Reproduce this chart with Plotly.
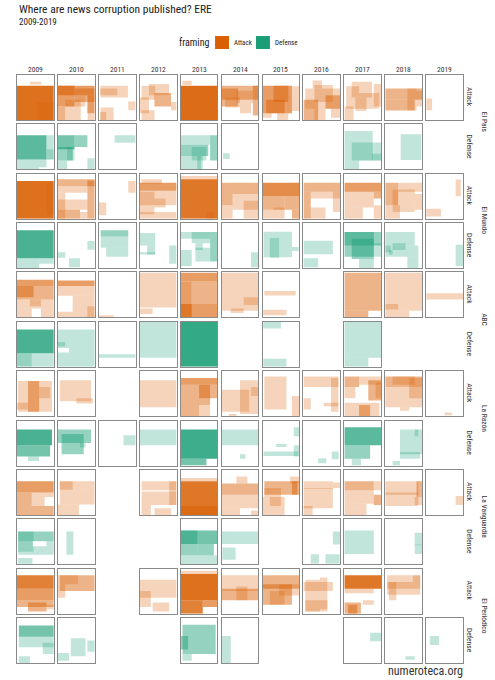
import plotly.graph_objects as go
from plotly.subplots import make_subplots

# facets
years = list(range(2009, 2020))
papers = ["El País", "El Mundo", "ABC", "La Razón", "La Vanguardia", "El Periódico"]
framings = ["Attack", "Defense"]

# article boxes on the page: (x0, y0, x1, y1, n_articles), page units, y from top
el_pais_attack = {
    2009: [(0.35, 0.15, 0.66, 0.21, 1), (0, 0.24, 1, 1, 7), (0.55, 0.6, 1, 1, 1)],
    2010: [(0, 0.24, 1, 0.45, 3), (0, 0.24, 0.45, 0.7, 3), (0.45, 0.3, 1, 0.6, 2), (0.8, 0.45, 1, 0.85, 3),
           (0.2, 0.55, 0.62, 1, 1), (0, 0.7, 0.2, 1, 2), (0.45, 0.45, 0.75, 0.7, 1), (0.81, 0.85, 1, 1, 1)],
    2011: [(0.04, 0.24, 0.79, 0.5, 1), (0.04, 0.3, 0.5, 0.45, 1), (0.8, 0.59, 1, 0.78, 1),
           (0.04, 0.72, 0.4, 1, 1), (0.04, 0.82, 0.2, 1, 1)],
    2012: [(0.05, 0.24, 0.42, 0.55, 1), (0.25, 0.2, 0.8, 0.45, 1), (0, 0.5, 0.25, 0.85, 1),
           (0.4, 0.4, 0.85, 0.7, 2), (0.85, 0.6, 1, 0.78, 1), (0.05, 0.78, 0.4, 1, 1)],
    2013: [(0.05, 0.13, 0.3, 0.22, 1), (0, 0.24, 1, 1, 8)],
    2014: [(0, 0.24, 1, 0.55, 2), (0, 0.3, 0.45, 0.7, 2), (0.4, 0.35, 0.85, 0.62, 1), (0.85, 0.24, 1, 0.9, 2),
           (0.1, 0.5, 0.5, 0.72, 1), (0.5, 0.62, 0.8, 0.85, 1)],
    2015: [(0, 0.24, 0.8, 0.85, 3), (0.3, 0.24, 0.7, 0.6, 2), (0.8, 0.25, 1, 0.8, 1), (0.1, 0.55, 0.6, 0.85, 2),
           (0.4, 0.85, 0.7, 1, 1), (0, 0.85, 0.25, 0.95, 1)],
    2016: [(0.25, 0.12, 0.5, 0.3, 1), (0.05, 0.3, 1, 0.75, 1), (0.3, 0.22, 0.8, 0.6, 1), (0, 0.55, 0.4, 1, 2),
           (0.6, 0.45, 1, 0.75, 2), (0.3, 0.75, 0.6, 1, 1), (0.75, 0.75, 1, 0.95, 1)],
    2017: [(0.05, 0.25, 0.4, 0.75, 1), (0.2, 0.15, 0.75, 0.5, 1), (0.4, 0.4, 0.95, 0.75, 1), (0.8, 0.2, 1, 0.7, 1),
           (0, 0.7, 0.25, 1, 1), (0.3, 0.5, 0.6, 0.8, 1)],
    2018: [(0, 0.3, 1, 0.55, 2), (0, 0.55, 0.8, 0.79, 2), (0.6, 0.3, 0.85, 0.79, 1), (0.85, 0.35, 1, 0.7, 1)],
    2019: [(0, 0.52, 0.16, 0.78, 1)],
}
el_pais_defense = {
    2009: [(0, 0.24, 0.8, 0.78, 4), (0.8, 0.24, 1, 0.55, 1), (0.8, 0.55, 1, 0.78, 2), (0, 0.78, 0.4, 1, 1),
           (0.4, 0.78, 0.6, 1, 1), (0.6, 0.78, 0.8, 0.95, 1)],
    2010: [(0, 0.24, 0.45, 0.55, 3), (0.45, 0.24, 0.8, 0.5, 2), (0, 0.5, 0.4, 0.8, 2), (0, 0.8, 0.25, 1, 1),
           (0.8, 0.75, 1, 1, 1), (0.25, 0.5, 0.45, 0.8, 1)],
    2011: [(0.43, 0.24, 1, 0.41, 1)],
    2012: [],
    2013: [(0, 0.24, 0.8, 0.45, 1), (0.8, 0.24, 1, 0.8, 2), (0, 0.45, 0.75, 0.7, 2), (0.3, 0.5, 0.7, 0.8, 1),
           (0, 0.7, 0.6, 1, 1), (0.45, 0.7, 0.55, 1, 1)],
    2014: [(0.04, 0.64, 0.22, 0.77, 1)],
    2015: [],
    2016: [],
    2017: [(0, 0.15, 0.77, 0.8, 1), (0.2, 0.4, 0.75, 0.8, 1), (0.75, 0.4, 1, 0.8, 1), (0, 0.8, 0.4, 1, 1),
           (0.75, 0.65, 1, 0.8, 1)],
    2018: [(0.42, 0.22, 0.98, 0.79, 1)],
    2019: [],
}
el_mundo_attack = {
    2009: [(0, 0.16, 1, 1, 7), (0.8, 0.2, 1, 0.9, 1)],
    2010: [(0, 0.12, 1, 0.28, 2), (0.8, 0.15, 1, 1, 2), (0, 0.28, 0.8, 0.42, 1), (0, 0.42, 0.2, 1, 1),
           (0, 0.57, 0.8, 0.8, 1), (0, 0.8, 0.6, 1, 2), (0.6, 0.85, 0.8, 1, 1)],
    2011: [(0.8, 0.16, 1, 0.42, 1), (0, 0.64, 0.2, 0.92, 1)],
    2012: [(0.05, 0.12, 0.6, 0.22, 1), (0, 0.2, 1, 0.38, 3), (0, 0.38, 1, 0.7, 1), (0, 0.4, 0.4, 0.9, 1),
           (0.4, 0.55, 0.7, 0.75, 1), (0, 0.85, 1, 1, 1)],
    2013: [(0, 0.05, 1, 0.12, 1), (0, 0.12, 1, 1, 6), (0.7, 0.85, 0.9, 1, 1)],
    2014: [(0, 0.2, 1, 0.45, 2), (0, 0.45, 0.3, 0.7, 2), (0.3, 0.45, 1, 0.8, 1), (0.6, 0.6, 1, 1, 1),
           (0, 0.7, 0.3, 1, 1)],
    2015: [(0, 0.2, 1, 0.5, 4), (0, 0.5, 0.6, 0.8, 2), (0.6, 0.5, 1, 0.8, 2), (0, 0.8, 0.3, 1, 1),
           (0.3, 0.75, 0.6, 1, 1), (0.8, 0.8, 1, 1, 2)],
    2016: [(0, 0.2, 1, 0.4, 2), (0, 0.4, 0.2, 1, 2), (0.2, 0.4, 1, 0.55, 1), (0.8, 0.4, 1, 0.85, 1),
           (0.2, 0.75, 0.6, 1, 1)],
    2017: [(0, 0.2, 1, 0.4, 3), (0, 0.4, 0.2, 1, 1), (0.2, 0.4, 0.8, 0.75, 1), (0.8, 0.4, 1, 0.55, 2),
           (0.2, 0.75, 0.5, 1, 1), (0.8, 0.7, 1, 1, 1)],
    2018: [(0, 0.2, 0.35, 0.7, 2), (0.35, 0.2, 1, 0.4, 1), (0.2, 0.35, 0.8, 0.85, 1), (0.8, 0.45, 1, 0.8, 1),
           (0, 0.7, 0.4, 1, 1)],
    2019: [(0.8, 0.13, 0.94, 0.5, 1), (0, 0.78, 0.4, 0.95, 1)],
}
el_mundo_defense = {
    2009: [(0, 0.16, 1, 0.78, 5), (0, 0.78, 0.6, 1, 1), (0.6, 0.78, 1, 0.9, 1)],
    2010: [(0.8, 0.4, 1, 0.59, 1), (0, 0.65, 0.2, 0.77, 1), (0.3, 0.78, 0.6, 0.98, 1)],
    2011: [(0.05, 0.16, 0.8, 0.3, 2), (0.05, 0.3, 0.8, 0.55, 1), (0.2, 0.55, 0.8, 0.75, 1)],
    2012: [(0, 0.22, 0.42, 0.5, 1), (0.2, 0.5, 0.42, 0.7, 1), (0, 0.65, 0.42, 0.7, 1), (0.8, 0.5, 1, 0.9, 1)],
    2013: [(0, 0.2, 0.8, 0.35, 1), (0.8, 0.2, 1, 0.85, 2), (0.3, 0.2, 0.8, 0.45, 1), (0.4, 0.45, 0.6, 0.6, 1),
           (0, 0.6, 0.3, 0.95, 1), (0.4, 0.55, 0.8, 0.85, 1)],
    2014: [(0.8, 0.65, 1, 0.98, 1)],
    2015: [(0.03, 0.19, 0.8, 0.76, 1), (0.2, 0.33, 0.45, 0.77, 1), (0.8, 0.53, 0.98, 0.62, 1)],
    2016: [(0, 0.39, 0.8, 0.69, 1), (0, 0.78, 0.4, 0.98, 1)],
    2017: [(0, 0.2, 1, 0.5, 2), (0, 0.2, 0.8, 0.75, 2), (0.2, 0.35, 0.8, 0.8, 2), (0.8, 0.45, 1, 0.75, 1),
           (0.4, 0.8, 0.8, 1, 1)],
    2018: [(0, 0.2, 0.8, 0.5, 1), (0, 0.5, 0.9, 0.75, 1), (0.2, 0.45, 0.55, 0.6, 1), (0, 0.5, 0.15, 0.65, 1),
           (0.6, 0.75, 0.9, 1, 1), (0.1, 0.6, 0.2, 0.7, 1)],
    2019: [(0.8, 0.48, 1, 0.95, 1)],
}
abc_attack = {
    2009: [(0, 0.16, 1, 0.3, 3), (0, 0.3, 1, 0.6, 2), (0, 0.3, 0.45, 0.55, 2), (0, 0.6, 1, 0.8, 1),
           (0.35, 0.6, 0.65, 0.75, 1), (0, 0.8, 0.4, 1, 1), (0.65, 0.8, 1, 1, 1)],
    2010: [(0, 0.18, 1, 0.3, 3), (0, 0.3, 1, 0.52, 1), (0.4, 0.52, 1, 1, 1), (0, 0.87, 0.4, 1, 1),
           (0.8, 0.75, 1, 1, 1)],
    2011: [(0, 0.95, 0.4, 1, 1)],
    2012: [(0, 0, 1, 0.78, 1), (0, 0.8, 0.35, 0.92, 1)],
    2013: [(0, 0, 1, 0.2, 3), (0, 0.2, 0.3, 1, 3), (0.3, 0.2, 1, 0.7, 2), (0, 0.7, 1, 1, 3)],
    2014: [(0, 0, 1, 0.85, 1), (0.6, 0.55, 1, 0.72, 1), (0.25, 0.8, 0.6, 0.9, 1)],
    2015: [(0.05, 0.41, 0.9, 0.51, 1), (0.02, 0.83, 0.65, 0.95, 1)],
    2016: [],
    2017: [(0, 0, 1, 0.85, 2), (0, 0.85, 0.65, 1, 2)],
    2018: [(0, 0, 1, 0.85, 1), (0, 0.85, 0.65, 1, 1), (0, 0.7, 0.35, 0.82, 1)],
    2019: [(0, 0.46, 1, 0.6, 1)],
}
abc_defense = {
    2009: [(0, 0.17, 1, 0.7, 5), (0, 0.7, 0.4, 1, 2), (0.4, 0.7, 1, 1, 1)],
    2010: [(0.3, 0.17, 1, 1, 1), (0, 0.17, 0.3, 0.58, 1), (0, 0.68, 0.3, 1, 1), (0, 0.45, 0.2, 0.55, 1)],
    2011: [(0, 0.72, 1, 0.8, 1)],
    2012: [(0, 0, 1, 0.8, 1)],
    2013: [(0, 0, 1, 1, 7)],
    2014: [],
    2015: [(0.02, 0, 0.5, 0.15, 1), (0.02, 0.82, 0.65, 1, 1)],
    2016: [],
    2017: [(0, 0, 1, 0.8, 1), (0, 0.8, 0.65, 1, 1)],
    2018: [],
    2019: [],
}
la_razon_attack = {
    2009: [(0.03, 0.22, 0.95, 0.9, 1), (0.3, 0.22, 0.6, 0.9, 2), (0.6, 0.35, 0.9, 0.6, 1), (0, 0.7, 0.3, 0.85, 1)],
    2010: [(0.05, 0.2, 0.9, 0.67, 1), (0.5, 0.6, 0.95, 0.72, 1)],
    2011: [],
    2012: [(0, 0.2, 1, 0.8, 1)],
    2013: [(0, 0.15, 1, 0.3, 3), (0, 0.3, 0.8, 0.75, 2), (0.5, 0.3, 1, 0.6, 2), (0, 0.75, 0.5, 1, 2),
           (0.5, 0.75, 0.8, 1, 1)],
    2014: [(0, 0.41, 0.75, 0.9, 1), (0.5, 0.2, 1, 0.95, 1), (0.8, 0.35, 1, 0.55, 1), (0.2, 0.95, 0.4, 1, 1)],
    2015: [(0.05, 0.12, 0.65, 0.85, 1), (0.8, 0.55, 1, 1, 1)],
    2016: [(0, 0.12, 0.95, 0.35, 1), (0.75, 0.15, 0.95, 0.9, 1), (0, 0.6, 0.2, 0.85, 1), (0.55, 0.7, 0.95, 0.78, 1)],
    2017: [(0, 0.12, 0.4, 0.35, 2), (0.4, 0.12, 1, 0.3, 1), (0, 0.35, 0.3, 0.6, 1), (0.65, 0.2, 1, 0.65, 2),
           (0.85, 0.25, 1, 0.6, 1), (0, 0.7, 0.95, 1, 1), (0.4, 0.75, 0.7, 1, 2)],
    2018: [(0, 0.12, 1, 0.35, 2), (0.2, 0.12, 0.8, 0.3, 1), (0, 0.35, 1, 0.8, 1), (0.65, 0.15, 1, 0.6, 1),
           (0.4, 0.8, 0.65, 0.88, 1)],
    2019: [(0.5, 0.92, 0.7, 0.98, 1)],
}
la_razon_defense = {
    2009: [(0, 0.2, 0.95, 0.55, 5), (0, 0.55, 0.9, 0.8, 3), (0.3, 0.8, 0.6, 0.9, 1)],
    2010: [(0, 0.2, 0.9, 0.5, 2), (0.1, 0.3, 0.7, 0.75, 2), (0.6, 0.5, 0.75, 0.6, 1)],
    2011: [(0.67, 0.33, 1, 0.55, 1)],
    2012: [(0, 0.2, 1, 0.55, 1)],
    2013: [(0, 0.2, 1, 0.85, 6), (0, 0.85, 0.7, 1, 3)],
    2014: [(0, 0.2, 1, 0.55, 1), (0.5, 0.75, 0.65, 0.85, 1)],
    2015: [(0.85, 0.15, 1, 0.35, 1), (0.37, 0.52, 0.65, 0.59, 1), (0.85, 0.55, 1, 0.8, 1), (0.03, 0.69, 0.97, 0.79, 1)],
    2016: [(0.4, 0.84, 0.62, 0.95, 1), (0.77, 0.69, 0.96, 0.86, 1)],
    2017: [(0, 0.15, 1, 0.55, 4), (0, 0.55, 0.7, 0.85, 2), (0.2, 0.85, 0.45, 1, 1)],
    2018: [(0.4, 0.2, 1, 0.75, 1), (0.8, 0.2, 0.9, 0.35, 1), (0.4, 0.7, 0.95, 0.85, 1), (0.2, 0.9, 0.4, 1, 1)],
    2019: [],
}
la_vanguardia_attack = {
    2009: [(0, 0.25, 1, 0.5, 3), (0, 0.5, 0.4, 0.8, 2), (0.4, 0.5, 0.75, 0.8, 1), (0.75, 0.5, 1, 0.6, 1),
           (0, 0.8, 1, 1, 2)],
    2010: [(0.05, 0.25, 1, 0.44, 1), (0.05, 0.25, 0.4, 0.44, 1), (0.05, 0.44, 1, 0.77, 1), (0, 0.77, 0.57, 1, 1)],
    2011: [],
    2012: [(0.05, 0.25, 1, 0.45, 1), (0.05, 0.48, 1, 0.78, 1), (0.8, 0.25, 1, 0.78, 1), (0.05, 0.78, 0.3, 1, 1),
           (0.4, 0.85, 0.85, 1, 1)],
    2013: [(0, 0.18, 1, 0.25, 1), (0, 0.25, 1, 1, 6), (0, 0.8, 1, 1, 2)],
    2014: [(0, 0.3, 1, 0.55, 2), (0, 0.55, 1, 0.85, 1), (0.4, 0.15, 0.7, 0.3, 1), (0, 0.85, 0.5, 1, 1),
           (0.8, 0.9, 1, 1, 1)],
    2015: [(0.05, 0.25, 0.95, 0.55, 2), (0.8, 0.25, 1, 0.55, 2), (0.05, 0.4, 0.5, 0.6, 1), (0, 0.6, 0.6, 1, 1),
           (0.2, 0.6, 0.5, 0.8, 1), (0.75, 0.15, 1, 0.3, 1)],
    2016: [(0, 0.25, 0.8, 0.42, 1), (0.8, 0.28, 1, 0.4, 1), (0, 0.4, 0.8, 0.85, 1), (0, 0.8, 0.25, 1, 1)],
    2017: [(0, 0.25, 0.8, 0.45, 2), (0.8, 0.25, 1, 0.45, 1), (0, 0.45, 0.8, 0.75, 1), (0.8, 0.55, 1, 0.78, 2),
           (0, 0.75, 0.6, 0.85, 1), (0, 0.85, 0.6, 1, 1)],
    2018: [(0, 0.25, 0.9, 0.55, 1), (0.85, 0.25, 1, 0.6, 2), (0, 0.5, 0.9, 0.8, 1), (0.8, 0.6, 1, 0.78, 1)],
    2019: [(0.8, 0.58, 1, 0.78, 1)],
}
la_vanguardia_defense = {
    2009: [(0.03, 0.27, 1, 0.49, 2), (0.03, 0.27, 0.45, 0.49, 1), (0.03, 0.49, 0.43, 0.6, 2),
           (0.8, 0.49, 1, 0.6, 1), (0.03, 0.6, 1, 0.79, 1), (0.03, 0.6, 0.45, 0.72, 1), (0.03, 0.86, 0.42, 0.99, 1)],
    2010: [(0.23, 0.27, 0.42, 0.79, 1)],
    2011: [],
    2012: [],
    2013: [(0, 0.25, 1, 0.55, 3), (0, 0.25, 0.45, 0.8, 2), (0.45, 0.55, 0.9, 0.8, 2), (0, 0.8, 1, 1, 1)],
    2014: [(0, 0.27, 1, 0.55, 1), (0.02, 0.63, 0.38, 0.9, 1)],
    2015: [],
    2016: [(0.8, 0.27, 1, 0.56, 1), (0.2, 0.78, 0.42, 0.98, 1), (0.6, 0.78, 0.98, 0.98, 1)],
    2017: [(0, 0.25, 0.8, 0.77, 1)],
    2018: [(0.8, 0.3, 1, 0.77, 1), (0.8, 0.56, 1, 0.58, 1)],
    2019: [],
}
el_periodico_attack = {
    2009: [(0, 0.15, 1, 0.45, 5), (0, 0.45, 1, 0.7, 3), (0, 0.7, 1, 0.85, 2), (0.3, 0.75, 0.8, 0.95, 2),
           (0.8, 0.8, 1, 0.9, 1)],
    2010: [(0.05, 0.15, 1, 0.5, 2), (0, 0.35, 0.2, 0.65, 1), (0, 0.15, 0.55, 0.35, 1)],
    2011: [],
    2012: [(0, 0.25, 1, 0.65, 1), (0, 0.5, 0.3, 0.85, 1), (0.35, 0.75, 0.8, 0.95, 1)],
    2013: [(0, 0.05, 1, 0.12, 1), (0, 0.12, 1, 0.7, 7), (0, 0.7, 0.6, 1, 5), (0.6, 0.7, 1, 0.85, 3)],
    2014: [(0, 0.15, 1, 0.5, 1), (0, 0.45, 1, 0.7, 2), (0.4, 0.4, 0.7, 0.7, 1)],
    2015: [(0, 0.15, 1, 0.45, 2), (0, 0.35, 0.8, 0.8, 2), (0.45, 0.35, 1, 0.6, 1), (0.2, 0.5, 0.6, 0.8, 1)],
    2016: [(0, 0.3, 0.8, 0.5, 1), (0.05, 0.25, 0.45, 0.95, 1), (0.45, 0.2, 0.65, 0.9, 1), (0.05, 0.7, 0.65, 0.95, 1)],
    2017: [(0, 0.15, 1, 0.45, 6), (0, 0.45, 0.8, 0.55, 1), (0.5, 0.7, 0.8, 0.8, 1), (0, 0.75, 0.45, 1, 2),
           (0.1, 0.8, 0.35, 1, 2)],
    2018: [(0.05, 0.15, 0.95, 0.58, 1), (0.05, 0.3, 0.95, 0.45, 1), (0.75, 0.15, 0.95, 0.3, 1),
           (0.1, 0.3, 0.3, 0.7, 1)],
    2019: [],
}
el_periodico_defense = {
    2009: [(0.05, 0.17, 1, 0.42, 3), (0.05, 0.42, 1, 0.65, 1), (0.7, 0.55, 1, 0.8, 1), (0.05, 0.85, 0.35, 1, 1)],
    2010: [(0.35, 0.45, 0.75, 0.85, 1), (0.8, 0.5, 1, 0.75, 1), (0, 0.78, 0.3, 0.95, 1)],
    2011: [],
    2012: [],
    2013: [(0.05, 0.15, 0.95, 0.8, 2), (0, 0.4, 0.2, 0.7, 2), (0.05, 0.8, 0.3, 0.95, 1)],
    2014: [(0, 0.4, 0.25, 1, 1)],
    2015: [],
    2016: [],
    2017: [(0.7, 0.33, 1, 0.52, 1)],
    2018: [(0.55, 0.85, 0.8, 0.93, 1)],
    2019: [(0.1, 0.4, 0.35, 0.6, 1)],
}

pages = {
    ("El País", "Attack"): el_pais_attack, ("El País", "Defense"): el_pais_defense,
    ("El Mundo", "Attack"): el_mundo_attack, ("El Mundo", "Defense"): el_mundo_defense,
    ("ABC", "Attack"): abc_attack, ("ABC", "Defense"): abc_defense,
    ("La Razón", "Attack"): la_razon_attack, ("La Razón", "Defense"): la_razon_defense,
    ("La Vanguardia", "Attack"): la_vanguardia_attack, ("La Vanguardia", "Defense"): la_vanguardia_defense,
    ("El Periódico", "Attack"): el_periodico_attack, ("El Periódico", "Defense"): el_periodico_defense,
}

colors = {"Attack": "#D95F02", "Defense": "#1B9E77"}
ALPHA = 0.27
FONT = "Roboto Condensed, Liberation Sans Narrow, Roboto, sans-serif"

W, H = 495, 680
L, R, T, B = 16.5, 31.5, 75, 16.5
PW, PH = W - L - R, H - T - B

nrows, ncols = len(papers) * 2, len(years)
fig = make_subplots(rows=nrows, cols=ncols, horizontal_spacing=0.0092, vertical_spacing=0.0073)


# screen pixel -> paper coordinates
def px(x):
    return (x - L) / PW


def py(y):
    return 1 - (y - T) / PH


shapes = []
for p, paper in enumerate(papers):
    for f, frame in enumerate(framings):
        row = p * 2 + f + 1
        for c, yr in enumerate(years):
            idx = (row - 1) * ncols + c + 1
            sfx = "" if idx == 1 else str(idx)
            for (x0, y0, x1, y1, n) in pages[(paper, frame)][yr]:
                shapes.append(dict(type="rect", xref="x" + sfx, yref="y" + sfx,
                                   x0=x0, x1=x1, y0=y0, y1=y1, layer="below",
                                   fillcolor=colors[frame], opacity=1 - (1 - ALPHA) ** n,
                                   line=dict(width=0)))

fig.update_xaxes(range=[0, 1], showgrid=False, zeroline=False, showticklabels=False, ticks="",
                 showline=True, mirror=True, linecolor="#8a8a8a", linewidth=1, fixedrange=True)
fig.update_yaxes(range=[1, 0], showgrid=False, zeroline=False, showticklabels=False, ticks="",
                 showline=True, mirror=True, linecolor="#8a8a8a", linewidth=1, fixedrange=True)

small = dict(size=7.5, color="#333")
ann = []
# year strip labels
for c, yr in enumerate(years):
    dom = fig.layout["xaxis" + ("" if c == 0 else str(c + 1))].domain
    ann.append(dict(x=(dom[0] + dom[1]) / 2, y=py(69), text=str(yr), showarrow=False,
                    xref="paper", yref="paper", xanchor="center", yanchor="middle", font=small))
# framing / newspaper strip labels
for p, paper in enumerate(papers):
    mids = []
    for f, frame in enumerate(framings):
        row = p * 2 + f + 1
        idx = (row - 1) * ncols + 1
        dom = fig.layout["yaxis" + ("" if idx == 1 else str(idx))].domain
        mid = (dom[0] + dom[1]) / 2
        mids.append(mid)
        ann.append(dict(x=px(470), y=mid, text=frame, textangle=90, showarrow=False,
                        xref="paper", yref="paper", xanchor="center", yanchor="middle", font=small))
    ann.append(dict(x=px(485), y=sum(mids) / 2, text=paper, textangle=90, showarrow=False,
                    xref="paper", yref="paper", xanchor="center", yanchor="middle", font=small))

# title, subtitle, legend, credit
ann.append(dict(x=px(16), y=py(8.5), text="Where are news corruption published? ERE", showarrow=False,
                xref="paper", yref="paper", xanchor="left", yanchor="middle",
                font=dict(size=11.5, color="#222")))
ann.append(dict(x=px(16), y=py(21.5), text="2009-2019", showarrow=False,
                xref="paper", yref="paper", xanchor="left", yanchor="middle",
                font=dict(size=9, color="#222")))
ann.append(dict(x=px(211), y=py(42.5), text="framing", showarrow=False, xref="paper", yref="paper",
                xanchor="right", yanchor="middle", font=dict(size=10, color="#222")))
for i, frame in enumerate(framings):
    sx = 215 + i * 41
    shapes.append(dict(type="rect", xref="paper", yref="paper", x0=px(sx), x1=px(sx + 14),
                       y0=py(49), y1=py(36), fillcolor=colors[frame], line=dict(width=0)))
    ann.append(dict(x=px(sx + 17), y=py(42.5), text=frame, showarrow=False, xref="paper", yref="paper",
                    xanchor="left", yanchor="middle", font=dict(size=7, color="#222")))
ann.append(dict(x=px(466), y=py(672), text="numeroteca.org", showarrow=False, xref="paper", yref="paper",
                xanchor="right", yanchor="middle", font=dict(size=12, color="#333")))

fig.update_layout(width=W, height=H, margin=dict(l=L, r=R, t=T, b=B),
                  paper_bgcolor="white", plot_bgcolor="white", showlegend=False,
                  font=dict(family=FONT), shapes=shapes, annotations=ann)

# drop the default page margin so the figure sits at the window's corner
fig.write_html("out.html", config={"displayModeBar": False},
               post_script="document.body.style.margin = '0';")
